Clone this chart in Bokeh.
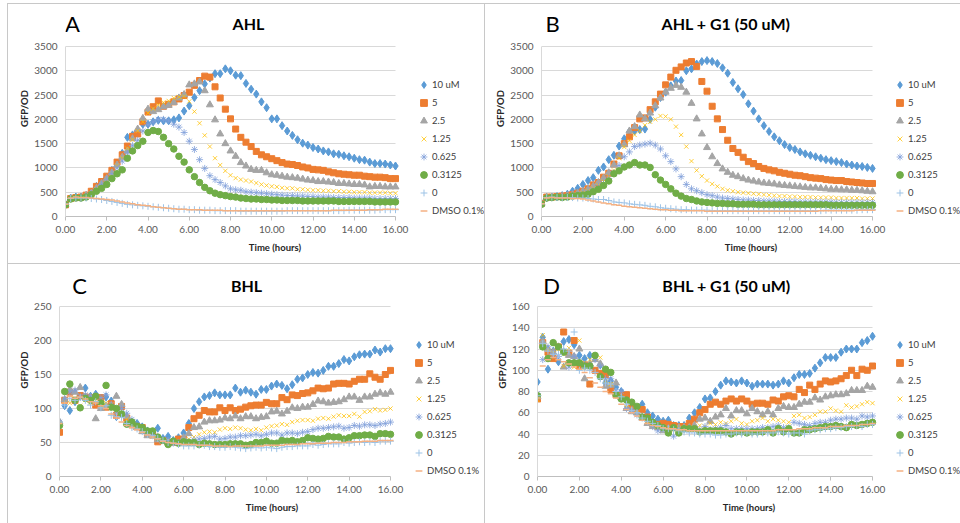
from bokeh.plotting import figure
from bokeh.layouts import column, row
from bokeh.models import (Range1d, FixedTicker, NumeralTickFormatter, Legend,
                          LegendItem, Label)
from bokeh.embed import file_html
from bokeh.resources import INLINE

FONT = "Lato"

HOURS = [0, 0.25, 0.5, 0.75, 1, 1.25, 1.5, 1.75, 2, 2.25, 2.5, 2.75, 3, 3.25, 3.5, 3.75,
         4, 4.25, 4.5, 4.75, 5, 5.25, 5.5, 5.75, 6, 6.25, 6.5, 6.75, 7, 7.25, 7.5, 7.75,
         8, 8.25, 8.5, 8.75, 9, 9.25, 9.5, 9.75, 10, 10.25, 10.5, 10.75, 11, 11.25, 11.5, 11.75,
         12, 12.25, 12.5, 12.75, 13, 13.25, 13.5, 13.75, 14, 14.25, 14.5, 14.75, 15, 15.25, 15.5, 15.75,
         16]

SERIES = ["10 uM", "5", "2.5", "1.25", "0.625", "0.3125", "0", "DMSO 0.1%"]
X_TICKS = [0, 2, 4, 6, 8, 10, 12, 14, 16]
A_YTICKS = [0, 500, 1000, 1500, 2000, 2500, 3000, 3500]
B_YTICKS = [0, 500, 1000, 1500, 2000, 2500, 3000, 3500]
C_YTICKS = [0, 50, 100, 150, 200, 250]
D_YTICKS = [0, 20, 40, 60, 80, 100, 120, 140, 160]

# ---------------- Panel A: AHL ----------------
A_10 = [250, 380, 400, 400, 430, 500, 620, 700,
        800, 950, 1100, 1300, 1630, 1680, 1750, 1900,
        1900, 1950, 1980, 1970, 1970, 1990, 2030, 2170,
        2280, 2450, 2590, 2730, 2850, 2940, 2940, 3040,
        3000, 2910, 2900, 2740, 2620, 2520, 2360, 2240,
        2010, 2010, 1870, 1760, 1670, 1580, 1510, 1470,
        1420, 1390, 1350, 1330, 1290, 1280, 1250, 1230,
        1200, 1170, 1160, 1120, 1090, 1090, 1080, 1060,
        1040]
A_5 = [240, 370, 390, 400, 440, 520, 620, 720,
       830, 950, 1120, 1270, 1450, 1650, 1700, 1950,
       2150, 2260, 2380, 2270, 2310, 2360, 2420, 2490,
       2560, 2700, 2800, 2890, 2870, 2670, 2440, 2210,
       2010, 1800, 1630, 1530, 1440, 1340, 1270, 1230,
       1190, 1150, 1110, 1080, 1070, 1050, 1020, 1000,
       970, 960, 950, 920, 900, 880, 870, 860,
       850, 850, 830, 820, 810, 810, 800, 780,
       780]
A_2p5 = [250, 370, 380, 390, 430, 480, 580, 680,
         780, 900, 1060, 1220, 1350, 1600, 1800, 2020,
         2210, 2160, 2200, 2260, 2290, 2350, 2440, 2510,
         2710, 2730, 2770, 2590, 2300, 1990, 1700, 1500,
         1350, 1240, 1110, 1040, 970, 950, 950, 900,
         860, 850, 830, 810, 800, 790, 770, 750,
         740, 720, 720, 710, 700, 680, 680, 670,
         660, 660, 650, 610, 620, 620, 610, 610,
         610]
A_1p25 = [250, 370, 380, 390, 420, 480, 570, 660,
          760, 880, 1050, 1200, 1400, 1580, 1760, 1950,
          2130, 2220, 2300, 2350, 2380, 2440, 2460, 2470,
          2370, 2160, 1920, 1670, 1440, 1200, 1060, 940,
          850, 790, 760, 740, 720, 690, 660, 640,
          620, 610, 590, 580, 580, 560, 560, 550,
          540, 540, 530, 530, 520, 520, 510, 510,
          500, 500, 500, 490, 490, 490, 490, 480,
          480]
A_0p625 = [250, 370, 390, 380, 400, 470, 560, 660,
           770, 880, 1000, 1140, 1310, 1460, 1570, 1760,
           1890, 1950, 2000, 2000, 1970, 1900, 1840, 1730,
           1550, 1380, 1170, 990, 840, 760, 700, 630,
           570, 550, 540, 510, 500, 490, 480, 470,
           460, 450, 440, 430, 430, 420, 420, 410,
           410, 400, 400, 400, 390, 390, 390, 390,
           380, 380, 380, 380, 370, 370, 370, 370,
           370]
A_0p3125 = [240, 360, 380, 380, 400, 450, 520, 580,
            660, 780, 880, 960, 1200, 1350, 1460, 1550,
            1730, 1770, 1750, 1630, 1500, 1390, 1240, 1120,
            960, 820, 700, 600, 530, 480, 450, 430,
            410, 400, 380, 370, 360, 360, 350, 350,
            340, 340, 330, 330, 330, 330, 320, 320,
            320, 320, 320, 320, 320, 310, 310, 310,
            310, 310, 310, 310, 300, 300, 300, 300,
            300]
A_0 = [260, 370, 380, 380, 380, 370, 360, 350,
       330, 310, 290, 270, 250, 240, 230, 220,
       210, 200, 190, 180, 170, 160, 150, 150,
       140, 140, 130, 130, 130, 120, 120, 120,
       120, 120, 110, 110, 110, 110, 110, 110,
       110, 110, 110, 120, 120, 120, 120, 120,
       120, 120, 120, 120, 120, 120, 120, 130,
       130, 130, 130, 130, 130, 140, 140, 140,
       140]
A_DMSO = [250, 380, 400, 390, 390, 380, 370, 360,
          350, 340, 320, 300, 280, 260, 240, 230,
          220, 200, 190, 180, 170, 160, 150, 150,
          140, 140, 140, 130, 130, 130, 130, 120,
          120, 120, 120, 120, 120, 120, 120, 120,
          120, 120, 120, 120, 120, 120, 120, 120,
          120, 120, 120, 120, 130, 130, 130, 130,
          130, 130, 130, 140, 140, 140, 150, 150,
          150]

# ---------------- Panel B: AHL + G1 ----------------
B_10 = [260, 390, 400, 410, 430, 460, 520, 580,
        660, 740, 800, 950, 1020, 1170, 1260, 1450,
        1600, 1750, 1760, 1790, 1800, 2000, 2250, 2450,
        2560, 2690, 2790, 2800, 3000, 3040, 3140, 3190,
        3210, 3190, 3150, 3060, 2950, 2760, 2630, 2510,
        2320, 2170, 2010, 1870, 1750, 1640, 1560, 1480,
        1420, 1380, 1330, 1290, 1260, 1230, 1200, 1170,
        1150, 1130, 1110, 1080, 1060, 1040, 1030, 1010,
        990]
B_5 = [270, 400, 400, 410, 420, 430, 450, 480,
       520, 570, 650, 700, 810, 890, 1080, 1250,
       1500, 1640, 1830, 2010, 2030, 2200, 2360, 2520,
       2710, 2870, 3010, 3080, 3160, 3190, 3090, 2780,
       2580, 2270, 2010, 1790, 1570, 1400, 1320, 1220,
       1130, 1090, 1030, 990, 960, 940, 910, 890,
       870, 850, 840, 820, 800, 790, 780, 760,
       750, 740, 740, 720, 710, 700, 690, 680,
       680]
B_2p5 = [260, 390, 400, 400, 410, 430, 450, 480,
         520, 560, 620, 700, 790, 900, 1060, 1250,
         1480, 1760, 1850, 2090, 2010, 2130, 2280, 2440,
         2560, 2640, 2700, 2660, 2560, 2330, 2010, 1700,
         1420, 1230, 1090, 980, 910, 850, 820, 780,
         750, 730, 710, 690, 680, 670, 650, 640,
         630, 620, 610, 600, 590, 590, 580, 570,
         560, 560, 550, 550, 540, 540, 530, 520,
         510]
B_1p25 = [260, 390, 390, 400, 400, 420, 440, 460,
          490, 530, 580, 640, 720, 820, 950, 1200,
          1430, 1560, 1680, 1760, 1880, 1950, 2000, 2070,
          2060, 2000, 1850, 1680, 1440, 1140, 950, 830,
          740, 670, 620, 570, 540, 520, 500, 490,
          480, 470, 460, 450, 440, 430, 420, 420,
          410, 410, 400, 400, 400, 390, 390, 390,
          390, 380, 380, 380, 380, 380, 370, 370,
          370]
B_0p625 = [260, 380, 390, 400, 400, 410, 420, 440,
           460, 490, 540, 610, 680, 780, 900, 1050,
           1230, 1330, 1440, 1470, 1490, 1510, 1470, 1390,
           1250, 1130, 980, 820, 660, 570, 530, 490,
           450, 430, 400, 380, 370, 360, 350, 340,
           340, 330, 330, 320, 320, 320, 310, 310,
           310, 310, 300, 300, 300, 300, 300, 300,
           300, 290, 290, 290, 290, 290, 290, 290,
           290]
B_0p3125 = [250, 380, 390, 400, 390, 400, 420, 430,
            440, 460, 510, 560, 640, 730, 880, 940,
            1020, 1060, 1110, 1060, 1060, 1010, 860, 750,
            660, 570, 480, 420, 370, 350, 320, 300,
            290, 280, 270, 270, 260, 260, 250, 250,
            250, 250, 240, 240, 240, 240, 240, 240,
            240, 240, 240, 240, 240, 240, 240, 240,
            230, 230, 230, 230, 230, 230, 230, 230,
            230]
B_0 = [260, 390, 400, 390, 390, 390, 390, 380,
       380, 370, 360, 350, 350, 330, 300, 290,
       280, 260, 250, 240, 230, 210, 200, 180,
       170, 160, 150, 140, 140, 130, 130, 130,
       130, 120, 120, 120, 120, 120, 120, 120,
       120, 120, 120, 120, 120, 120, 120, 120,
       120, 120, 120, 120, 120, 120, 120, 130,
       130, 130, 130, 130, 130, 130, 140, 140,
       140]
B_DMSO = [260, 380, 390, 380, 380, 380, 370, 370,
          360, 340, 320, 300, 280, 260, 240, 230,
          210, 200, 190, 180, 170, 160, 150, 140,
          140, 130, 130, 120, 120, 120, 120, 120,
          110, 110, 110, 110, 110, 110, 110, 110,
          110, 110, 110, 110, 110, 110, 110, 110,
          110, 110, 110, 110, 110, 110, 120, 120,
          120, 120, 120, 120, 120, 130, 130, 130,
          130]

# ---------------- Panel C: BHL ----------------
C_10 = [80, 104, 97, 110, 118, 130, 118, 121,
        115, 117, 111, 88, 104, 86, 80, 78,
        73, 67, 64, 71, 56, 59, 53, 57,
        64, 78, 100, 110, 117, 119, 123, 120,
        120, 120, 130, 124, 127, 124, 121, 128,
        128, 133, 136, 134, 129, 135, 143, 145,
        150, 153, 152, 156, 162, 162, 166, 172,
        170, 176, 179, 180, 180, 186, 183, 188,
        188]
C_5 = [65, 112, 124, 112, 119, 117, 116, 105,
       116, 102, 107, 90, 103, 86, 76, 73,
       72, 63, 61, 51, 53, 50, 50, 55,
       55, 72, 85, 90, 97, 95, 95, 101,
       97, 101, 97, 99, 102, 104, 105, 105,
       109, 107, 107, 116, 113, 120, 119, 122,
       123, 126, 130, 129, 130, 136, 137, 137,
       136, 140, 143, 143, 151, 146, 143, 150,
       156]
C_2p5 = [80, 113, 128, 124, 131, 117, 116, 85,
         100, 104, 104, 118, 106, 88, 76, 72,
         66, 60, 60, 54, 52, 50, 49, 49,
         57, 63, 72, 73, 80, 82, 82, 83,
         86, 85, 89, 85, 88, 88, 85, 87,
         88, 95, 96, 92, 96, 101, 100, 102,
         102, 106, 111, 110, 108, 109, 110, 113,
         117, 117, 112, 117, 117, 121, 123, 121,
         124]
C_1p25 = [78, 110, 108, 115, 104, 113, 108, 112,
          105, 108, 106, 94, 92, 84, 76, 72,
          68, 64, 62, 58, 55, 52, 51, 50,
          51, 55, 58, 62, 65, 66, 65, 69,
          71, 70, 72, 71, 69, 68, 70, 68,
          72, 74, 75, 77, 76, 80, 82, 83,
          83, 82, 85, 86, 85, 88, 90, 89,
          89, 92, 88, 95, 96, 99, 97, 98,
          100]
C_0p625 = [80, 114, 124, 127, 118, 120, 118, 119,
           116, 120, 106, 93, 100, 93, 84, 76,
           70, 64, 62, 57, 55, 53, 51, 49,
           49, 51, 54, 55, 56, 58, 59, 55,
           56, 58, 58, 60, 60, 61, 62, 60,
           62, 64, 64, 61, 64, 64, 63, 65,
           66, 69, 71, 71, 72, 73, 74, 71,
           72, 75, 74, 76, 76, 75, 77, 78,
           80]
C_0p3125 = [75, 125, 136, 112, 101, 115, 112, 118,
            108, 134, 102, 100, 92, 77, 80, 74,
            72, 67, 67, 58, 53, 47, 52, 49,
            51, 50, 50, 47, 49, 48, 47, 47,
            47, 48, 48, 48, 46, 47, 50, 50,
            52, 49, 49, 53, 52, 53, 51, 53,
            57, 56, 55, 56, 59, 58, 58, 55,
            57, 60, 60, 61, 61, 59, 63, 63,
            62]
C_0 = [80, 105, 115, 112, 116, 112, 105, 110,
       101, 104, 90, 88, 87, 78, 72, 70,
       66, 62, 60, 56, 53, 50, 49, 47,
       45, 45, 45, 46, 46, 44, 44, 43,
       43, 44, 43, 42, 41, 42, 43, 42,
       43, 42, 41, 43, 44, 44, 45, 45,
       45, 47, 46, 47, 48, 48, 48, 50,
       49, 50, 51, 50, 51, 50, 52, 52,
       52]
C_DMSO = [78, 108, 118, 115, 117, 114, 110, 108,
          104, 100, 92, 86, 80, 75, 72, 69,
          65, 61, 58, 55, 52, 50, 49, 48,
          47, 47, 47, 46, 46, 46, 45, 45,
          45, 44, 45, 45, 45, 45, 45, 45,
          46, 46, 46, 46, 47, 47, 47, 48,
          48, 48, 49, 49, 49, 50, 50, 50,
          51, 51, 51, 52, 52, 52, 53, 53,
          53]

# ---------------- Panel D: BHL + G1 ----------------
D_10 = [89, 131, 101, 118, 108, 127, 129, 124,
        114, 111, 114, 113, 105, 88, 90, 84,
        80, 72, 69, 62, 68, 60, 57, 54,
        52, 53, 48, 48, 48, 55, 60, 65,
        73, 74, 80, 86, 90, 89, 88, 90,
        88, 85, 87, 87, 87, 86, 87, 90,
        88, 93, 96, 96, 97, 102, 107, 112,
        112, 112, 117, 120, 120, 120, 126, 128,
        132]
D_5 = [73, 126, 117, 111, 122, 136, 116, 128,
       104, 105, 87, 100, 97, 96, 82, 77,
       77, 77, 65, 63, 63, 56, 50, 49,
       50, 49, 48, 47, 47, 50, 54, 60,
       63, 68, 70, 68, 71, 73, 71, 73,
       71, 68, 69, 69, 68, 72, 71, 75,
       76, 75, 82, 79, 86, 82, 87, 90,
       89, 90, 92, 95, 100, 95, 101, 100,
       104]
D_2p5 = [75, 127, 120, 117, 122, 103, 114, 113,
         120, 92, 106, 110, 106, 85, 86, 88,
         74, 64, 61, 60, 55, 50, 47, 46,
         43, 45, 45, 46, 46, 46, 48, 54,
         55, 52, 56, 58, 64, 57, 62, 62,
         59, 64, 61, 58, 61, 58, 64, 66,
         65, 65, 68, 70, 70, 74, 72, 75,
         76, 77, 77, 78, 81, 81, 81, 85,
         84]
D_1p25 = [72, 133, 120, 116, 120, 104, 121, 103,
          128, 107, 110, 111, 112, 90, 87, 78,
          74, 65, 64, 60, 55, 52, 47, 46,
          47, 45, 44, 46, 44, 46, 45, 48,
          47, 50, 49, 51, 50, 52, 54, 50,
          49, 52, 53, 55, 52, 54, 53, 52,
          51, 57, 58, 55, 56, 58, 61, 61,
          64, 62, 61, 67, 65, 66, 68, 70,
          69]
D_0p625 = [78, 110, 122, 115, 113, 118, 103, 113,
           108, 106, 103, 110, 104, 92, 92, 80,
           80, 64, 63, 58, 57, 54, 47, 43,
           45, 42, 38, 44, 44, 45, 45, 44,
           47, 44, 45, 46, 48, 45, 45, 45,
           45, 45, 45, 46, 46, 47, 48, 46,
           46, 51, 50, 49, 48, 50, 51, 51,
           53, 54, 54, 55, 55, 54, 57, 56,
           57]
D_0p3125 = [76, 122, 111, 126, 122, 117, 107, 107,
            107, 104, 104, 114, 94, 101, 98, 77,
            73, 72, 70, 66, 56, 55, 51, 48,
            46, 41, 46, 41, 45, 45, 45, 42,
            43, 43, 43, 43, 42, 40, 42, 42,
            41, 42, 42, 42, 44, 41, 45, 42,
            45, 41, 41, 44, 44, 45, 46, 47,
            47, 48, 47, 46, 49, 48, 49, 50,
            51]
D_0 = [76, 125, 118, 115, 115, 120, 118, 136,
       100, 102, 100, 98, 92, 88, 87, 80,
       75, 68, 62, 60, 55, 52, 50, 48,
       45, 45, 44, 43, 42, 41, 41, 40,
       40, 40, 39, 39, 40, 40, 41, 40,
       41, 40, 40, 41, 41, 41, 42, 41,
       40, 41, 41, 40, 43, 44, 44, 45,
       45, 46, 46, 47, 47, 48, 47, 49,
       49]
D_DMSO = [74, 104, 110, 112, 110, 108, 106, 103,
          101, 98, 93, 88, 84, 80, 78, 74,
          68, 63, 60, 57, 53, 50, 48, 47,
          46, 45, 45, 44, 44, 43, 43, 43,
          43, 43, 43, 43, 43, 43, 43, 43,
          43, 43, 43, 43, 43, 43, 44, 44,
          44, 44, 45, 45, 45, 46, 46, 46,
          47, 47, 47, 48, 48, 48, 49, 49,
          50]

A_DATA = [A_10, A_5, A_2p5, A_1p25, A_0p625, A_0p3125, A_0, A_DMSO]
B_DATA = [B_10, B_5, B_2p5, B_1p25, B_0p625, B_0p3125, B_0, B_DMSO]
C_DATA = [C_10, C_5, C_2p5, C_1p25, C_0p625, C_0p3125, C_0, C_DMSO]
D_DATA = [D_10, D_5, D_2p5, D_1p25, D_0p625, D_0p3125, D_0, D_DMSO]
for grp in (A_DATA, B_DATA, C_DATA, D_DATA):
    for s in grp:
        assert len(s) == len(HOURS), len(s)

# marker styles per series: (marker, size, fill, line, alpha, line_width)
STYLES = [
    ("diamond", 8, "#5B9BD5", "#5B9BD5", 1.0, 1),
    ("square", 6, "#ED7D31", "#ED7D31", 1.0, 1),
    ("triangle", 7, "#A5A5A5", "#A5A5A5", 1.0, 1),
    ("x", 6, None, "#FFC000", 0.75, 1),
    ("asterisk", 7, None, "#7F9FDA", 0.8, 1),
    ("circle", 6.5, "#70AD47", "#70AD47", 1.0, 1),
    ("cross", 7, None, "#9DC3E6", 1.0, 1),
    ("dash", 6, None, "#F4B183", 1.0, 1.5),
]

# panel geometry in window pixels; shadow = the thin panel frame lines (CSS)
PANELS = [
    dict(letter="A", title="AHL", data=A_DATA, yticks=A_YTICKS,
         ox=0, oy=0, w=484, h=263, fl=65, fr=395, ft=46, fb=216,
         title_cx=248, text_cy=23, letter_cx=72, legend_text_x=432, legend_first=84,
         shadow="inset 7px 3px 0 0 #FFFFFF, inset 8px 4px 0 0 #C8C8C8"),
    dict(letter="B", title="AHL + G1 (50 uM)", data=B_DATA, yticks=B_YTICKS,
         ox=484, oy=0, w=476, h=263, fl=541, fr=872, ft=46, fb=216,
         title_cx=725.5, text_cy=23, letter_cx=552, legend_text_x=908, legend_first=84,
         shadow="inset 0 3px 0 0 #FFFFFF, inset 1px 4px 0 0 #C8C8C8"),
    dict(letter="C", title="BHL", data=C_DATA, yticks=C_YTICKS,
         ox=0, oy=263, w=484, h=260, fl=59, fr=390, ft=306, fb=476,
         title_cx=246, text_cy=284.5, letter_cx=79, legend_text_x=427, legend_first=344,
         shadow="inset 7px 0 0 0 #FFFFFF, inset 8px 1px 0 0 #C8C8C8"),
    dict(letter="D", title="BHL + G1 (50 uM)", data=D_DATA, yticks=D_YTICKS,
         ox=484, oy=263, w=476, h=260, fl=537, fr=872, ft=306, fb=476,
         title_cx=726, text_cy=284.5, letter_cx=551, legend_text_x=908, legend_first=344,
         shadow="inset 1px 1px 0 0 #C8C8C8"),
]

LEG_ITEM_H = 17
LEG_SPACING = 1
LEG_GLYPH_W = 17


def make_panel(c):
    ymax = c["yticks"][-1]
    fl, fr, ft, fb = c["fl"], c["fr"], c["ft"], c["fb"]
    y_per_px = ymax / (fb - ft)
    x_per_px = 16.0 / (fr - fl)
    ytop = ymax + (ft - c["oy"]) * y_per_px          # frame reaches panel top (titles)
    xright = 16.0 + (c["ox"] + c["w"] - fr) * x_per_px  # frame reaches panel right (legend)

    def dx(px):
        return (px - fl) * x_per_px

    def dy(py):
        return (fb - py) * y_per_px

    p = figure(width=c["w"], height=c["h"],
               min_border_left=fl - c["ox"], min_border_right=0,
               min_border_top=0, min_border_bottom=c["oy"] + c["h"] - fb,
               x_range=Range1d(0, xright), y_range=Range1d(0, ytop),
               output_backend="svg", toolbar_location=None,
               styles={"box-shadow": c["shadow"]})
    p.outline_line_color = None
    p.background_fill_color = None
    p.border_fill_color = None
    p.xgrid.visible = False

    grid = p.ygrid[0]
    grid.ticker = FixedTicker(ticks=c["yticks"])
    if "cross_bounds" in grid.properties():
        grid.cross_bounds = (0, 16)
        grid.grid_line_color = "#D9D9D9"
        grid.grid_line_width = 1
    else:
        grid.visible = False
        p.segment(x0=[0] * len(c["yticks"]), x1=[16] * len(c["yticks"]),
                  y0=c["yticks"], y1=c["yticks"], line_color="#D9D9D9",
                  line_width=1, level="underlay")

    p.xaxis.ticker = FixedTicker(ticks=X_TICKS)
    p.yaxis.ticker = FixedTicker(ticks=c["yticks"])
    p.xaxis.formatter = NumeralTickFormatter(format="0.00")
    p.yaxis.formatter = NumeralTickFormatter(format="0")
    p.xaxis.bounds = (0, 16)
    p.yaxis.bounds = (0, ymax)

    for ax in (p.xaxis[0], p.yaxis[0]):
        ax.major_label_text_font = FONT
        ax.major_label_text_font_size = "10px"
        ax.major_label_text_color = "#595959"
        ax.axis_label_text_font = FONT
        ax.axis_label_text_font_size = "9.5px"
        ax.axis_label_text_font_style = "bold"
        ax.axis_label_text_color = "#262626"
        ax.minor_tick_line_color = None

    p.xaxis.axis_label = "Time (hours)"
    p.xaxis.axis_line_color = "#BFBFBF"
    p.xaxis.major_tick_line_color = "#BFBFBF"
    p.xaxis.major_tick_in = 0
    p.xaxis.major_tick_out = 4
    p.xaxis.major_label_standoff = 5
    p.xaxis.axis_label_standoff = 6

    p.yaxis.axis_label = "GFP/OD"
    p.yaxis.axis_line_color = "#D9D9D9"
    p.yaxis.major_tick_line_color = None
    p.yaxis.major_tick_in = 0
    p.yaxis.major_tick_out = 0
    p.yaxis.major_label_standoff = 8
    p.yaxis.axis_label_standoff = 1

    items = []
    for name, vals, st in zip(SERIES, c["data"], STYLES):
        marker, size, fill, line, alpha, lw = st
        r = p.scatter(x=HOURS, y=vals, marker=marker, size=size,
                      fill_color=fill, line_color=line, line_width=lw,
                      fill_alpha=alpha, line_alpha=alpha)
        items.append(LegendItem(label=name, renderers=[r]))

    leg_h = 8 * LEG_ITEM_H + 7 * LEG_SPACING
    leg_top = c["legend_first"] - LEG_ITEM_H / 2
    leg_left = c["legend_text_x"] - LEG_GLYPH_W
    legend = Legend(items=items,
                    location=(leg_left - fl, fb - (leg_top + leg_h)),
                    orientation="vertical", margin=0, padding=0, spacing=LEG_SPACING,
                    glyph_width=LEG_GLYPH_W, glyph_height=LEG_ITEM_H, label_height=LEG_ITEM_H,
                    label_standoff=0,
                    label_text_font=FONT, label_text_font_size="9.5px",
                    label_text_color="#404040",
                    border_line_color=None, background_fill_alpha=0)
    p.add_layout(legend, "center")

    p.add_layout(Label(x=dx(c["title_cx"]), y=dy(c["text_cy"]), text=c["title"],
                       text_align="center", text_baseline="middle",
                       text_font=FONT, text_font_style="bold",
                       text_font_size="16px", text_color="#000000"))
    p.add_layout(Label(x=dx(c["letter_cx"]), y=dy(c["text_cy"]), text=c["letter"],
                       text_align="center", text_baseline="middle",
                       text_font=FONT, text_font_size="22px", text_color="#000000"))
    return p


pa, pb, pc, pd = [make_panel(c) for c in PANELS]
layout = column(row(pa, pb, spacing=0), row(pc, pd, spacing=0), spacing=0)

with open("out.html", "w") as f:
    f.write(file_html(layout, INLINE))
